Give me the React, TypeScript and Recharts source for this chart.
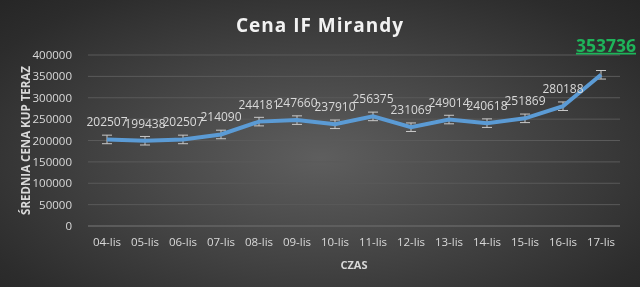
import {
  LineChart,
  Line,
  XAxis,
  YAxis,
  CartesianGrid,
  LabelList,
  ErrorBar,
} from "recharts";

const days = [
  "04-lis", "05-lis", "06-lis", "07-lis", "08-lis", "09-lis", "10-lis",
  "11-lis", "12-lis", "13-lis", "14-lis", "15-lis", "16-lis", "17-lis",
];
const prices = [
  202507, 199438, 202507, 214090, 244181, 247660, 237910,
  256375, 231069, 249014, 240618, 251869, 280188, 353736,
];
const errors = [
  10000, 10000, 10000, 10000, 10000, 10000, 10000,
  10000, 10000, 10000, 10000, 10000, 10000, 10000,
];
const yTicks = [0, 50000, 100000, 150000, 200000, 250000, 300000, 350000, 400000];

const data = days.map((d, i) => ({ day: d, price: prices[i], err: errors[i] }));

const FONT = "'Open Sans', 'DejaVu Sans', sans-serif";

function PriceLabel(props: any) {
  const { x, y, value, index } = props;
  if (index === prices.length - 1) {
    return (
      <text
        x={x + 5}
        y={y - 23}
        textAnchor="middle"
        fill="#1eb45a"
        fontSize={17.5}
        fontWeight={700}
        fontFamily={FONT}
        textDecoration="underline"
      >
        {value}
      </text>
    );
  }
  return (
    <text
      x={x}
      y={y - 13}
      textAnchor="middle"
      fill="#d9d9d9"
      fontSize={12}
      fontFamily={FONT}
    >
      {value}
    </text>
  );
}

export default function App() {
  return (
    <div
      style={{
        position: "fixed",
        left: 0,
        top: 0,
        width: 640,
        height: 287,
        background:
          "radial-gradient(ellipse at 50% 55%, #5e5e5e 0%, #474747 40%, #2c2c2c 85%, #262626 100%)",
        fontFamily: FONT,
      }}
    >
      <div
        style={{
          position: "absolute",
          top: 12,
          width: 640,
          textAlign: "center",
          color: "#f2f2f2",
          fontSize: 19,
          fontWeight: 700,
          letterSpacing: 1,
        }}
      >
        Cena IF Mirandy
      </div>
      <LineChart
        width={640}
        height={287}
        data={data}
        margin={{ top: 55, right: 20, left: 0, bottom: 16 }}
      >
        <CartesianGrid vertical={false} stroke="#5a5a5a" strokeWidth={1} />
        <XAxis
          dataKey="day"
          padding={{ left: 19, right: 19 }}
          tick={{ fontSize: 11.5, fill: "#d9d9d9", fontFamily: FONT }}
          tickLine={false}
          axisLine={{ stroke: "#6a6a6a" }}
          height={45}
          tickMargin={6}
          interval={0}
          label={{
            value: "CZAS",
            position: "insideBottom",
            offset: 2,
            fill: "#d9d9d9",
            fontSize: 11,
            fontWeight: 700,
          }}
        />
        <YAxis
          domain={[0, 400000]}
          ticks={yTicks}
          interval={0}
          width={88}
          tick={{ fontSize: 11.5, fill: "#d9d9d9", fontFamily: FONT }}
          tickLine={false}
          axisLine={false}
          tickMargin={10}
          label={{
            value: "ŚREDNIA CENA KUP TERAZ",
            angle: -90,
            position: "insideLeft",
            offset: 26,
            fill: "#d9d9d9",
            fontSize: 11.5,
            fontWeight: 700,
            style: { textAnchor: "middle" },
          }}
        />
        <Line
          type="linear"
          dataKey="price"
          stroke="#5b9bd5"
          strokeWidth={4}
          dot={false}
          isAnimationActive={false}
        >
          <ErrorBar dataKey="err" width={5} stroke="#c8c8c8" strokeWidth={1} direction="y" />
          <LabelList dataKey="price" content={PriceLabel} />
        </Line>
      </LineChart>
    </div>
  );
}
